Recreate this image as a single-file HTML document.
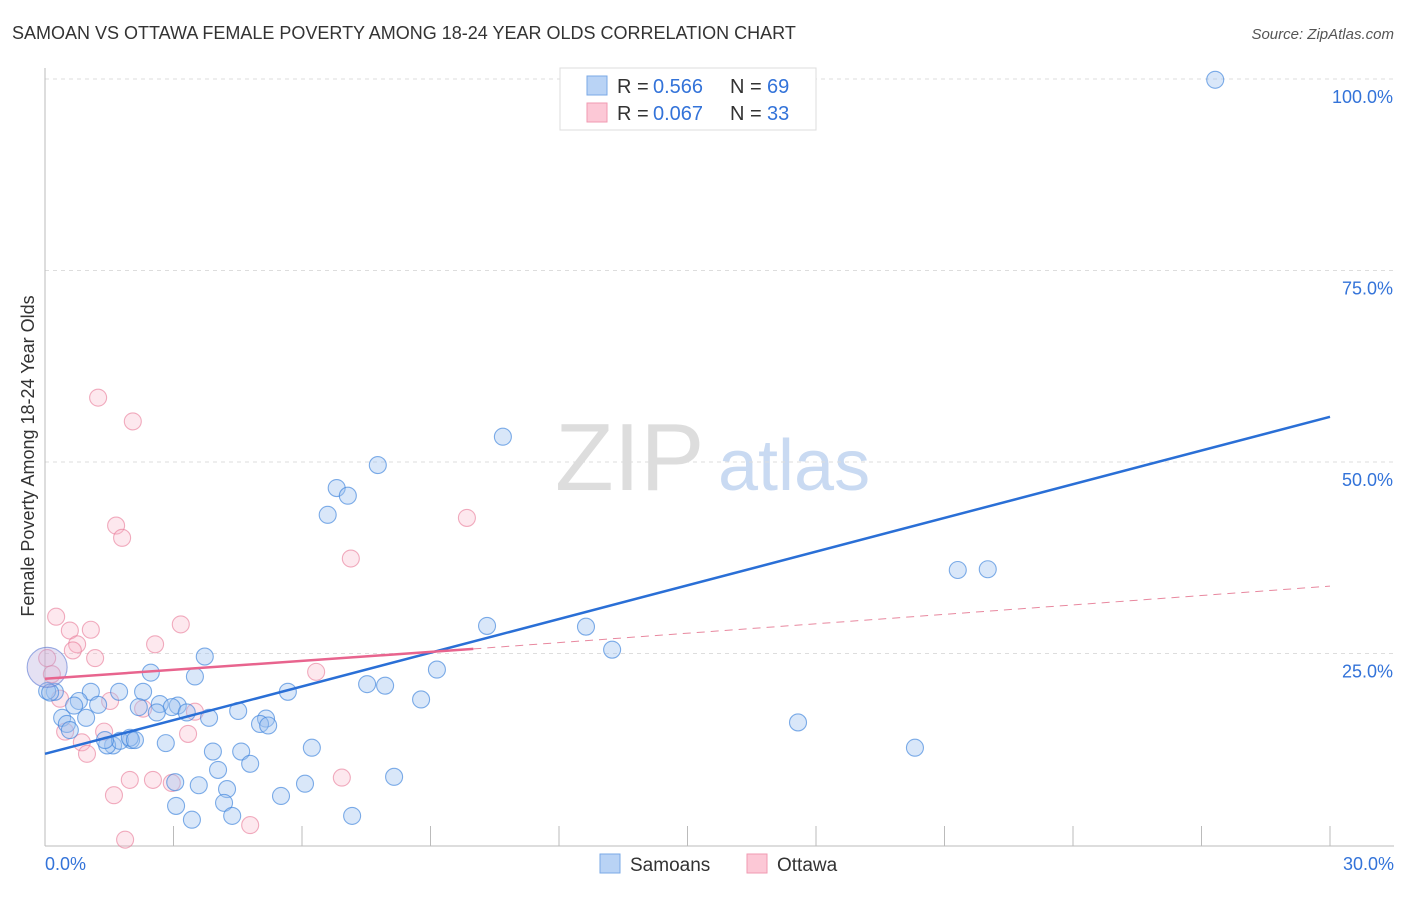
<!DOCTYPE html>
<html><head><meta charset="utf-8"><style>
body{margin:0;background:#fff;font-family:"Liberation Sans",sans-serif}
svg text{font-family:"Liberation Sans",sans-serif}
</style></head><body>
<svg id="c" width="1406" height="892" xmlns="http://www.w3.org/2000/svg">
<text x="12" y="39" font-size="18" fill="#333">SAMOAN VS OTTAWA FEMALE POVERTY AMONG 18-24 YEAR OLDS CORRELATION CHART</text>
<text x="1394" y="39" font-size="15" fill="#555" font-style="italic" text-anchor="end">Source: ZipAtlas.com</text>
<text x="34" y="456" font-size="18" fill="#333" text-anchor="middle" transform="rotate(-90 34 456)">Female Poverty Among 18-24 Year Olds</text>
<g><text x="555" y="490" font-size="96" font-family="Liberation Serif" fill="#ddd">ZIP</text><text x="718" y="490" font-size="72" fill="#c9daf2">atlas</text></g>
<g id="grid"></g><g id="pts"></g><g id="lines"></g>
<g>
<rect x="560" y="68" width="256" height="62" fill="#fff" stroke="#ddd"/>
<rect x="587" y="76" width="20" height="19" fill="#b9d3f5" stroke="#7aa8e6"/>
<rect x="587" y="103" width="20" height="19" fill="#fcc8d6" stroke="#f09ab2"/>
<text x="617" y="93" font-size="20" fill="#333">R =</text><text x="653" y="93" font-size="20" fill="#3373d9">0.566</text>
<text x="730" y="93" font-size="20" fill="#333">N =</text><text x="767" y="93" font-size="20" fill="#3373d9">69</text>
<text x="617" y="120" font-size="20" fill="#333">R =</text><text x="653" y="120" font-size="20" fill="#3373d9">0.067</text>
<text x="730" y="120" font-size="20" fill="#333">N =</text><text x="767" y="120" font-size="20" fill="#3373d9">33</text>
</g>
<g>
<rect x="600" y="854" width="20" height="19" fill="#b9d3f5" stroke="#7aa8e6"/>
<text x="630" y="871" font-size="19" fill="#333">Samoans</text>
<rect x="747" y="854" width="20" height="19" fill="#fcc8d6" stroke="#f09ab2"/>
<text x="777" y="871" font-size="19" fill="#333">Ottawa</text>
</g>
</svg>
<script>
const yTicks=[25,50,75,100];
const yTickLabels=["25.0%","50.0%","75.0%","100.0%"];
const xTickLabels=["0.0%","30.0%"];
const samoanX=[27.32,10.69,7.77,6.81,7.07,6.60,21.31,22.01,10.32,12.63,13.24,3.73,2.47,3.50,9.15,7.52,7.94,5.67,8.78,0.23,1.07,1.73,2.29,0.79,1.24,0.68,2.68,3.10,2.19,2.96,3.31,2.61,0.40,0.96,4.51,3.83,5.16,5.02,5.21,0.51,0.58,17.58,20.31,1.59,1.45,2.01,1.75,2.82,6.23,3.92,4.58,4.79,4.04,8.15,6.07,3.59,4.25,3.04,4.18,5.51,3.06,3.43,4.37,7.17,0.05,0.12,1.98,2.10,1.40];
const samoanY=[99.9,53.3,49.6,46.6,45.6,43.1,35.9,36.0,28.6,28.5,25.5,24.6,22.5,22.0,22.9,21.0,20.8,20.0,19.0,20.0,20.0,20.0,20.0,18.8,18.3,18.2,18.4,18.2,18.0,18.0,17.3,17.3,16.6,16.6,17.5,16.6,16.5,15.8,15.6,15.8,15.0,16.0,12.7,13.0,13.0,13.7,13.6,13.3,12.7,12.2,12.2,10.6,9.8,8.9,8.0,7.8,7.3,8.2,5.5,6.4,5.1,3.3,3.8,3.8,20.1,19.9,14.0,13.7,13.7];
const ottawaX=[1.24,2.05,1.66,1.80,9.85,7.14,0.26,0.58,1.07,3.17,2.57,0.75,0.65,1.17,0.05,0.16,6.33,0.35,1.52,2.29,3.50,1.38,3.34,0.47,0.86,0.98,6.93,1.98,2.52,2.96,1.61,4.79,1.87];
const ottawaY=[58.4,55.3,41.7,40.1,42.7,37.4,29.8,28.0,28.1,28.8,26.2,26.2,25.4,24.4,24.4,22.3,22.6,19.1,18.8,17.8,17.4,14.8,14.5,14.8,13.4,11.9,8.8,8.5,8.5,8.1,6.5,2.6,0.7];
const bigX=[0.05],bigY=[23.2];
const samoanTrend=[[0,11.9],[30,55.9]];
const ottawaTrend=[[0,21.7],[10,25.6],[30,33.8]];
const X=v=>45+v/30*1285, Y=v=>845-v/100*766;
const NS="http://www.w3.org/2000/svg";
function mk(t,a,p){const e=document.createElementNS(NS,t);for(const k in a)e.setAttribute(k,a[k]);p.appendChild(e);return e;}
const grid=document.getElementById('grid'),pts=document.getElementById('pts'),lines=document.getElementById('lines');
yTicks.forEach((v,i)=>{
 const l=mk('line',{x1:45,x2:1394,y1:Y(v),y2:Y(v),stroke:'#ddd','stroke-dasharray':'4 4'},grid);
 
 
 const t=mk('text',{x:1393,y:Y(v)+24,'font-size':18,fill:'#3373d9','text-anchor':'end'},grid);t.textContent=yTickLabels[i];
 
 
});
const ax=mk('line',{x1:45,x2:45,y1:68,y2:846,stroke:'#bbb'},grid);


const bx=mk('line',{x1:45,x2:1394,y1:846,y2:846,stroke:'#bbb'},grid);


for(let i=1;i<=10;i++){const tk=mk('line',{x1:X(i*3),x2:X(i*3),y1:826,y2:846,stroke:'#bbb'},grid);
 
 }
[[0,'start',45],[30,'end',1394]].forEach((d,i)=>{const t=mk('text',{x:d[2],y:870,'font-size':18,fill:'#3373d9','text-anchor':d[1]},grid);t.textContent=xTickLabels[i];
 
 });
function dots(xs,ys,fill,stroke,name,r){xs.forEach((x,i)=>{const c=mk('circle',{cx:X(x),cy:Y(ys[i]),r:r,fill:fill,stroke:stroke,'stroke-width':1.1},pts);
 
 });}
dots(ottawaX,ottawaY,'rgba(248,180,200,0.3)','rgba(232,120,150,0.6)','ottawa-point',8.5);
dots(samoanX,samoanY,'rgba(160,195,240,0.4)','rgba(60,130,220,0.65)','samoan-point',8.5);
dots(bigX,bigY,'rgba(180,170,220,0.35)','rgba(90,120,210,0.6)','cluster-point',20);
const s=mk('line',{x1:X(samoanTrend[0][0]),y1:Y(samoanTrend[0][1]),x2:X(samoanTrend[1][0]),y2:Y(samoanTrend[1][1]),stroke:'#2a6fd6','stroke-width':2.5},lines);


const o=mk('line',{x1:X(ottawaTrend[0][0]),y1:Y(ottawaTrend[0][1]),x2:X(ottawaTrend[1][0]),y2:Y(ottawaTrend[1][1]),stroke:'#e8648e','stroke-width':2.5},lines);


const od=mk('line',{x1:X(ottawaTrend[1][0]),y1:Y(ottawaTrend[1][1]),x2:X(ottawaTrend[2][0]),y2:Y(ottawaTrend[2][1]),stroke:'#e8889f','stroke-width':1,'stroke-dasharray':'8 6'},lines);


</script>
</body></html>
